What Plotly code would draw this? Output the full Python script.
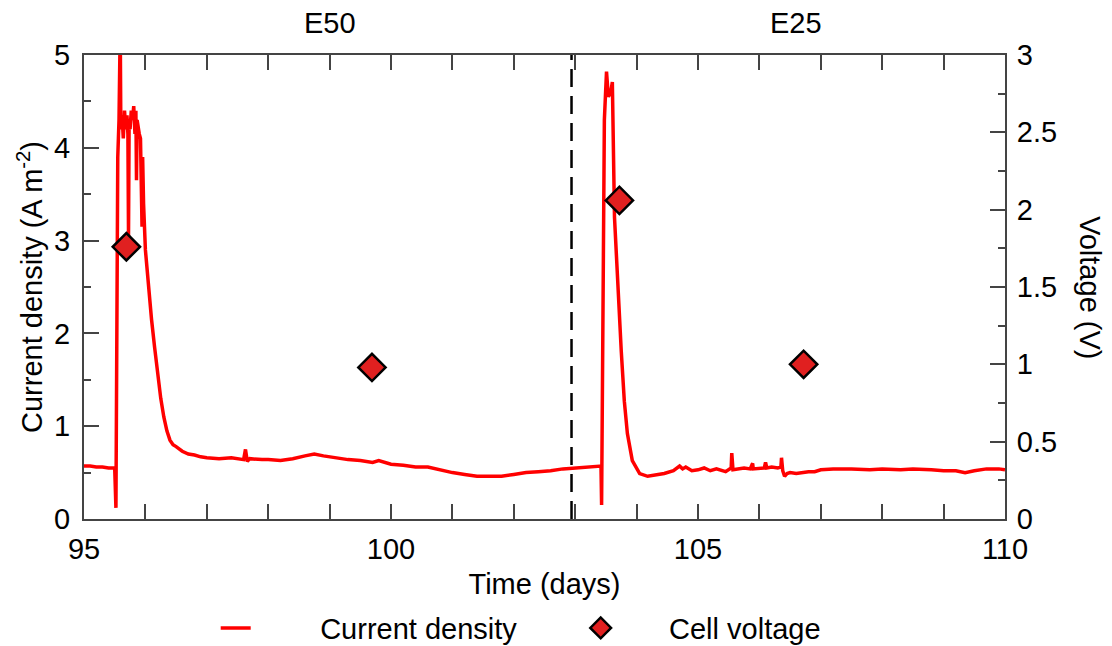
import plotly.graph_objects as go

# ---------------- data ----------------
time_days = [
    95.0, 95.1, 95.2, 95.3, 95.4, 95.49, 95.50, 95.52, 95.535, 95.55, 95.57, 95.59,
    95.60, 95.62, 95.64, 95.66, 95.68, 95.70, 95.715, 95.725, 95.735, 95.75, 95.77,
    95.79, 95.81, 95.83, 95.845, 95.855, 95.865, 95.88, 95.90, 95.92, 95.945, 95.955,
    95.97, 96.0, 96.05, 96.10, 96.15, 96.20, 96.25, 96.30, 96.35, 96.40, 96.45, 96.5,
    96.6, 96.7, 96.8, 96.9, 97.0, 97.2, 97.4, 97.6, 97.63, 97.66, 97.7, 97.9, 98.0,
    98.2, 98.4, 98.6, 98.75, 98.9, 99.1, 99.3, 99.5, 99.7, 99.8, 100.0, 100.2, 100.4,
    100.6, 100.8, 101.0, 101.2, 101.4, 101.6, 101.8, 102.0, 102.2, 102.4, 102.6, 102.8,
    103.0, 103.2, 103.42, 103.43, 103.455, 103.475, 103.51, 103.54, 103.58, 103.605,
    103.64, 103.69, 103.75, 103.80, 103.85, 103.93, 104.05, 104.18, 104.3, 104.45,
    104.6, 104.7, 104.75, 104.8, 104.9, 105.0, 105.1, 105.2, 105.3, 105.45, 105.54,
    105.55, 105.57, 105.65, 105.75, 105.85, 105.89, 105.9, 106.0, 106.08, 106.1, 106.12,
    106.2, 106.3, 106.35, 106.36, 106.38, 106.41, 106.45, 106.5, 106.6, 106.7, 106.8,
    106.9, 107.0, 107.2, 107.5, 107.8, 108.0, 108.3, 108.5, 108.8, 109.0, 109.2,
    109.35, 109.5, 109.7, 109.9, 110.0,
]
current_density = [
    0.57, 0.57, 0.56, 0.56, 0.55, 0.55, 0.55, 0.12, 2.5, 3.9, 4.3, 5.3,
    4.2, 4.35, 4.1, 4.4, 4.2, 4.35, 4.15, 3.05, 4.3, 4.2, 4.4,
    4.3, 4.45, 4.15, 4.4, 3.65, 4.3, 4.2, 4.15, 4.1, 3.15, 3.9,
    3.4, 2.9, 2.5, 2.15, 1.85, 1.55, 1.3, 1.1, 0.95, 0.85, 0.8, 0.78,
    0.73, 0.70, 0.69, 0.67, 0.66, 0.65, 0.66, 0.64, 0.75, 0.62, 0.65, 0.64, 0.64,
    0.63, 0.65, 0.68, 0.70, 0.68, 0.66, 0.64, 0.63, 0.61, 0.63, 0.59, 0.58, 0.56,
    0.56, 0.53, 0.50, 0.48, 0.46, 0.46, 0.46, 0.48, 0.50, 0.51, 0.52, 0.54,
    0.55, 0.56, 0.57, 0.15, 2.5, 4.3, 4.82, 4.55, 4.6, 4.71,
    3.25, 2.54, 1.81, 1.27, 0.92, 0.63, 0.49, 0.46, 0.47, 0.49,
    0.52, 0.57, 0.54, 0.56, 0.52, 0.53, 0.55, 0.52, 0.54, 0.51, 0.55,
    0.71, 0.53, 0.54, 0.55, 0.54, 0.60, 0.54, 0.55, 0.55, 0.61, 0.55,
    0.56, 0.55, 0.56, 0.66, 0.52, 0.46, 0.49, 0.50, 0.49, 0.50, 0.51,
    0.51, 0.53, 0.54, 0.54, 0.53, 0.54, 0.53, 0.54, 0.53, 0.52, 0.52,
    0.50, 0.52, 0.54, 0.54, 0.53,
]

voltage_days = [95.69, 99.69, 103.72, 106.72]
cell_voltage = [1.76, 0.98, 2.06, 1.00]

divider_day = 102.94
phase_labels = ["E50", "E25"]
phase_label_days = [99.0, 106.6]

FONT = "Liberation Sans, Arial, sans-serif"
FS = 29
NB = "\u00a0"

fig = go.Figure()

fig.add_trace(go.Scatter(
    x=[divider_day, divider_day], y=[0, 5], mode="lines",
    line=dict(color="black", width=2.5, dash="18px,9px"), showlegend=False, hoverinfo="skip",
))

fig.add_trace(go.Scatter(
    x=time_days, y=current_density, mode="lines",
    name=NB * 8 + "Current density",
    line=dict(color="#ff0000", width=3.5),
))

fig.add_trace(go.Scatter(
    x=voltage_days, y=cell_voltage, mode="markers", yaxis="y2",
    name=NB * 6 + "Cell voltage",
    marker=dict(symbol="diamond", size=21, color="#e02020",
                line=dict(color="black", width=2.5)),
))

axis_common = dict(
    showline=True, linecolor="#444", linewidth=2, ticks="inside",
    tickcolor="#444", tickwidth=1.5, ticklen=15, showgrid=False, zeroline=False,
    tickfont=dict(family=FONT, size=FS, color="black"), automargin=False,
)
minor_common = dict(ticks="inside", ticklen=7, tickcolor="#444", tickwidth=1.5)

fig.update_layout(
    width=1112, height=646,
    margin=dict(l=84, r=107, t=55, b=127, autoexpand=False),
    plot_bgcolor="white", paper_bgcolor="white",
    font=dict(family=FONT, size=FS, color="black"),
    xaxis=dict(
        range=[95, 110], dtick=5, mirror="allticks", ticklabelstandoff=3,
        minor=dict(dtick=1, **minor_common),
        title=dict(text="Time (days)", font=dict(family=FONT, size=FS), standoff=10),
        **axis_common,
    ),
    yaxis=dict(range=[0, 5], dtick=1, ticklabelstandoff=6,
               minor=dict(dtick=0.5, **minor_common), **axis_common),
    yaxis2=dict(range=[0, 3], dtick=0.5, overlaying="y", side="right", ticklabelstandoff=4,
                minor=dict(dtick=0.25, **minor_common), **axis_common),
    legend=dict(
        orientation="h", x=0.143, xanchor="left", y=-0.235, yanchor="middle",
        font=dict(family=FONT, size=FS), entrywidth=320, bgcolor="rgba(0,0,0,0)",
        tracegroupgap=0,
    ),
    showlegend=True,
)

for lbl, d in zip(phase_labels, phase_label_days):
    fig.add_annotation(x=d, xref="x", y=1, yref="paper", yanchor="bottom", yshift=14,
                       text=lbl, showarrow=False, font=dict(family=FONT, size=FS))

fig.add_annotation(x=0, xref="paper", xanchor="center", xshift=-54, y=0.5, yref="paper",
                   yanchor="middle", text="Current density (A m<sup>-2</sup>)", textangle=-90,
                   showarrow=False, font=dict(family=FONT, size=FS))
fig.add_annotation(x=1, xref="paper", xanchor="center", xshift=85, y=0.5, yref="paper",
                   yanchor="middle", text="Voltage (V)", textangle=90,
                   showarrow=False, font=dict(family=FONT, size=FS))

fig.write_html("out.html")
